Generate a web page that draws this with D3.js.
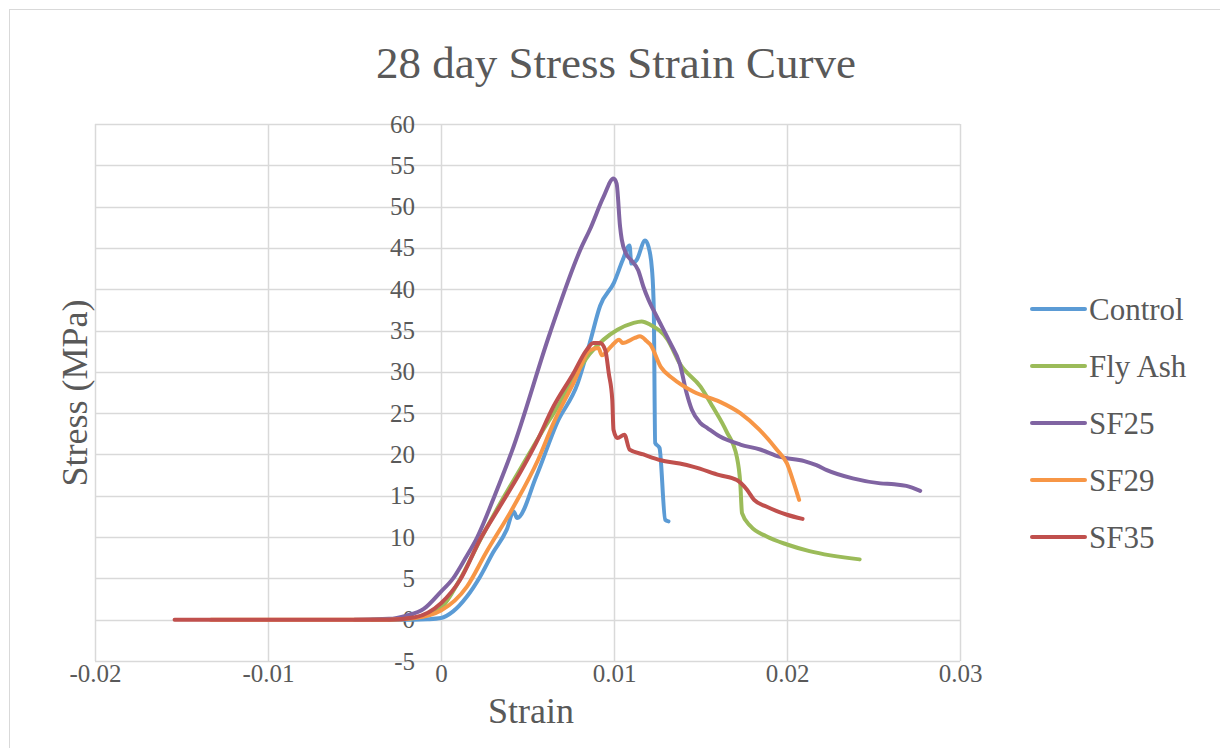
<!DOCTYPE html>
<html>
<head>
<meta charset="utf-8">
<script src="https://cdnjs.cloudflare.com/ajax/libs/d3/7.8.5/d3.min.js"></script>
<style>
  body { margin: 0; background: #fff; }
  text { font-family: "Liberation Serif", serif; fill: #595959; }
</style>
</head>
<body>
<div id="chart"></div>
<script>
var seriesNames = ['Control', 'Fly Ash', 'SF25', 'SF29', 'SF35'];
var seriesColors = ['#5B9BD5', '#9BBB59', '#8064A2', '#F79646', '#C0504D'];

var controlStrain = [-0.003, -0.0016, -0.0008, 0, 0.0007, 0.0015, 0.00226, 0.003, 0.0038, 0.0042, 0.0044, 0.0055, 0.0067, 0.0079, 0.0086, 0.0092, 0.01, 0.0105, 0.0109, 0.011, 0.0113, 0.0118, 0.012, 0.0122, 0.0123, 0.01238, 0.01263, 0.01296, 0.01315];
var controlStress = [0, 0, 0.05, 0.2, 1.0, 2.8, 5.2, 8.1, 10.9, 13.1, 12.3, 17.3, 23.8, 28.6, 33.5, 38.0, 40.8, 43.5, 45.3, 43.1, 43.5, 45.9, 45.1, 42.3, 37.5, 21.4, 20.8, 12.1, 11.9];

var flyAshStrain = [-0.004, -0.002, -0.001, 0, 0.0011, 0.0023, 0.0034, 0.0046, 0.0058, 0.0068, 0.0075, 0.0086, 0.0094, 0.0102, 0.0111, 0.0116, 0.0121, 0.0131, 0.0138, 0.015, 0.0157, 0.0165, 0.0171, 0.0173, 0.0174, 0.0179, 0.0188, 0.02, 0.0213, 0.0242];
var flyAshStress = [0, 0.1, 0.5, 1.4, 4.9, 9.8, 14.0, 18.3, 22.6, 26.0, 28.6, 32.2, 33.9, 35.1, 35.9, 36.1, 35.7, 33.9, 31.0, 28.2, 25.8, 22.8, 19.7, 16.5, 12.9, 11.3, 10.1, 9.1, 8.3, 7.3];

var sf25Strain = [-0.005, -0.003, -0.002, -0.001, 0, 0.0007, 0.0014, 0.0021, 0.0031, 0.0041, 0.0063, 0.0081, 0.0086, 0.0094, 0.00997, 0.01015, 0.01035, 0.01045, 0.0107, 0.011, 0.0114, 0.0117, 0.012, 0.01247, 0.01325, 0.0138, 0.0142, 0.0145, 0.015, 0.0154, 0.0161, 0.0173, 0.01845, 0.0196, 0.021, 0.0217, 0.0223, 0.0238, 0.0254, 0.0262, 0.0269, 0.0277];
var sf25Stress = [0, 0.1, 0.5, 1.3, 3.4, 5.0, 7.4, 10.0, 15.0, 20.4, 34.7, 45.0, 47.2, 51.2, 53.4, 52.8, 47.6, 46.0, 44.3, 43.5, 42.3, 40.3, 38.7, 36.7, 33.5, 31.0, 27.4, 25.4, 23.8, 23.2, 22.2, 21.2, 20.6, 19.7, 19.2, 18.7, 18.1, 17.1, 16.5, 16.4, 16.2, 15.6];

var sf29Strain = [-0.0133, -0.003, -0.0015, 0, 0.0015, 0.0026, 0.0042, 0.0056, 0.0065, 0.00765, 0.0086, 0.0091, 0.0093, 0.0098, 0.0103, 0.0105, 0.0112, 0.0115, 0.0119, 0.0121, 0.0127, 0.0134, 0.0146, 0.0161, 0.0173, 0.0184, 0.0194, 0.02, 0.0204, 0.0207];
var sf29Stress = [0, 0, 0.2, 1.1, 4.0, 8.1, 13.7, 19.3, 23.8, 28.6, 32.6, 32.9, 32.0, 33.0, 33.9, 33.5, 34.1, 34.3, 33.7, 33.3, 30.6, 29.2, 27.6, 26.4, 25.0, 23.0, 20.6, 18.9, 16.5, 14.5];

var sf35Strain = [-0.0154, -0.003, -0.0015, 0, 0.0011, 0.00226, 0.0034, 0.0046, 0.0055, 0.0065, 0.00765, 0.0084, 0.0088, 0.0092, 0.0095, 0.0097, 0.0099, 0.00997, 0.0102, 0.0106, 0.0109, 0.0117, 0.0127, 0.0138, 0.0146, 0.0161, 0.0171, 0.0177, 0.0181, 0.0188, 0.02, 0.0209];
var sf35Stress = [0, 0, 0.3, 2.0, 4.8, 9.7, 13.7, 17.9, 21.4, 25.8, 29.8, 32.6, 33.5, 33.5, 32.6, 29.8, 26.6, 23.0, 22.0, 22.4, 20.6, 20.0, 19.3, 18.9, 18.5, 17.5, 16.9, 15.7, 14.5, 13.7, 12.7, 12.2];

var xTicks = [-0.02, -0.01, 0, 0.01, 0.02, 0.03];
var yTicks = [-5, 0, 5, 10, 15, 20, 25, 30, 35, 40, 45, 50, 55, 60];

var W = 1220, H = 748;
var plotLeft = 95, plotRight = 960, plotTop = 124, plotBottom = 661;

var svg = d3.select('#chart').append('svg')
  .attr('width', W)
  .attr('height', H);

// chart border
svg.append('rect')
  .attr('x', 9.5).attr('y', 9.5)
  .attr('width', W).attr('height', H)
  .style('fill', '#fff')
  .style('stroke', '#d9d9d9');

var x = d3.scaleLinear().domain([-0.02, 0.03]).range([plotLeft, plotRight]);
var y = d3.scaleLinear().domain([-5, 60]).range([plotBottom, plotTop]);

// gridlines
svg.append('g').selectAll('line').data(yTicks)
  .enter().append('line')
    .attr('x1', plotLeft).attr('x2', plotRight)
    .attr('y1', function(d){ return Math.round(y(d)) + 0.5; })
    .attr('y2', function(d){ return Math.round(y(d)) + 0.5; })
    .style('stroke', '#d9d9d9').style('stroke-width', 1.5);
svg.append('g').selectAll('line').data(xTicks)
  .enter().append('line')
    .attr('y1', plotTop).attr('y2', plotBottom)
    .attr('x1', function(d){ return Math.round(x(d)) + 0.5; })
    .attr('x2', function(d){ return Math.round(x(d)) + 0.5; })
    .style('stroke', '#d9d9d9').style('stroke-width', 1.5);

// axes: y labels hang off x=0, x labels sit under the plot
var yAxis = d3.axisLeft(y).tickValues(yTicks).tickSize(0).tickPadding(26)
  .tickFormat(function(d){ return String(d); });
var gy = svg.append('g').attr('transform', 'translate(' + x(0) + ',0)').call(yAxis);
gy.select('.domain').remove();
gy.selectAll('text').style('font-size', '25px').style('font-family', 'Liberation Serif').attr('fill', '#595959');

var xAxis = d3.axisBottom(x).tickValues(xTicks).tickSize(0).tickPadding(3)
  .tickFormat(function(d){ return d === 0 ? '0' : d.toFixed(2); });
var gx = svg.append('g').attr('transform', 'translate(0,' + plotBottom + ')').call(xAxis);
gx.select('.domain').remove();
gx.selectAll('text').style('font-size', '25px').style('font-family', 'Liberation Serif').attr('fill', '#595959');

// series
var series = [
  [controlStrain, controlStress],
  [flyAshStrain, flyAshStress],
  [sf25Strain, sf25Stress],
  [sf29Strain, sf29Stress],
  [sf35Strain, sf35Stress]
];
var line = d3.line()
  .x(function(d){ return x(d[0]); })
  .y(function(d){ return y(d[1]); })
  .curve(d3.curveMonotoneX);

for(var i = 0; i < series.length; i++){
  var pts = d3.zip(series[i][0], series[i][1]);
  svg.append('path')
    .datum(pts)
    .attr('d', line)
    .style('fill', 'none')
    .style('stroke', seriesColors[i])
    .style('stroke-width', 4)
    .style('stroke-linejoin', 'round')
    .style('stroke-linecap', 'round');
}

// titles
svg.append('text')
  .attr('x', 616).attr('y', 78)
  .attr('text-anchor', 'middle')
  .style('font-size', '45px')
  .text('28 day Stress Strain Curve');

svg.append('text')
  .attr('x', 531).attr('y', 723)
  .attr('text-anchor', 'middle')
  .style('font-size', '36px')
  .text('Strain');

svg.append('text')
  .attr('transform', 'translate(87,393) rotate(-90)')
  .attr('text-anchor', 'middle')
  .style('font-size', '36px')
  .text('Stress (MPa)');

// legend
var lg = svg.append('g').selectAll('g').data(seriesNames)
  .enter().append('g')
    .attr('transform', function(d, i){ return 'translate(1032,' + (309 + i * 57) + ')'; });
lg.append('line')
  .attr('x1', 0).attr('x2', 53)
  .style('stroke', function(d, i){ return seriesColors[i]; })
  .style('stroke-width', 4)
  .style('stroke-linecap', 'round');
lg.append('text')
  .attr('x', 57).attr('dy', '0.35em')
  .style('font-size', '31px')
  .text(function(d){ return d; });
</script>
</body>
</html>
